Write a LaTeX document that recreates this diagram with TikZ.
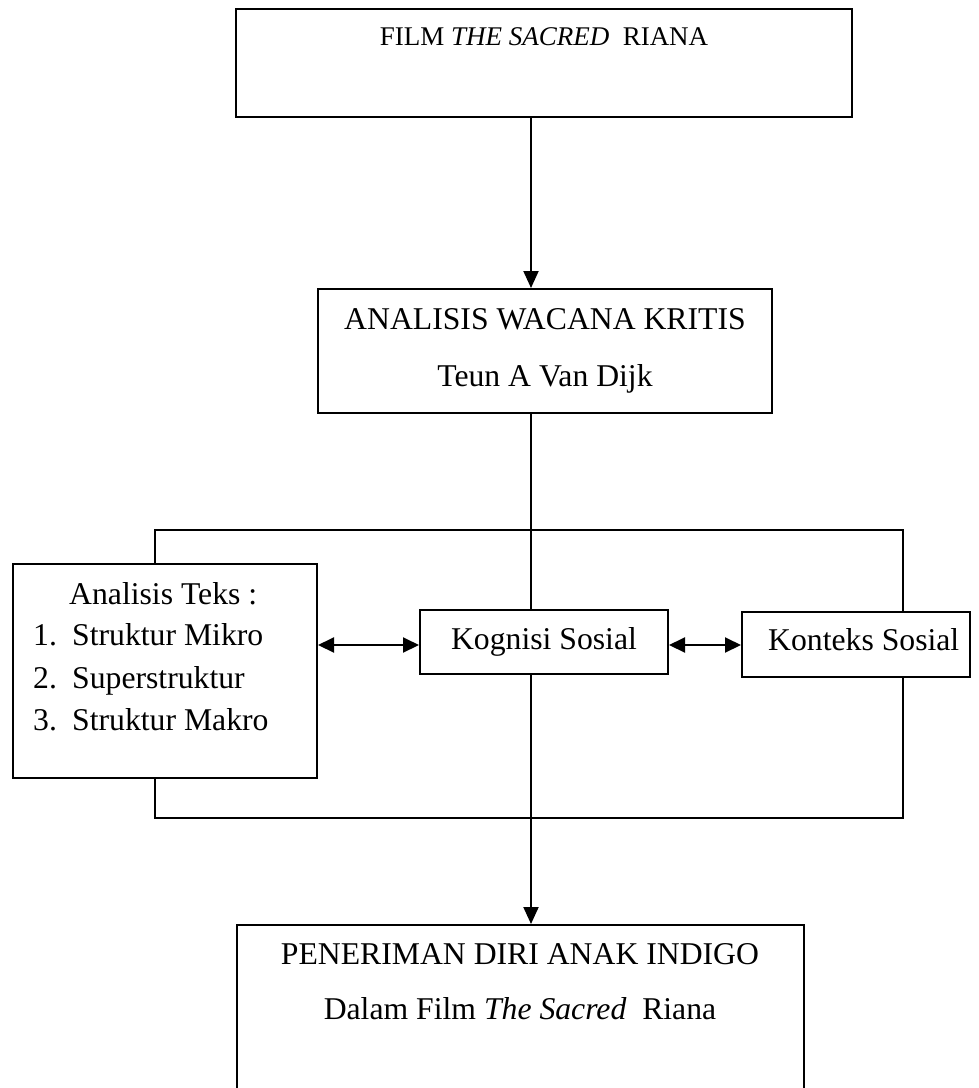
\documentclass[tikz,border=0pt]{standalone}
\usepackage{fontspec}
\setmainfont{Liberation Serif}
\usetikzlibrary{arrows.meta}
\begin{document}
\begin{tikzpicture}[x=1pt,y=-1pt,
  box/.style={draw,line width=2pt,rectangle,inner sep=0pt},
  big/.style={font=\fontsize{31.7}{38}\selectfont,inner sep=0pt,anchor=base},
  small/.style={font=\fontsize{27}{32}\selectfont,inner sep=0pt,anchor=base},
  conn/.style={line width=2pt},
  frameline/.style={line width=1.7pt},
  tip/.style={-{Triangle[length=17pt,width=15pt]}},
  dtip/.style={{Triangle[length=16pt,width=15pt]}-{Triangle[length=16pt,width=15pt]}}]
\useasboundingbox (0,0) rectangle (979,1088);
\clip (0,0) rectangle (979,1088);
\fill[white] (0,0) rectangle (979,1088);
% boxes
\node[box,minimum width=616pt,minimum height=108pt] (film) at (544,63) {};
\node[small] (filmt) at (544,45) {FILM \textit{THE SACRED}\ \ RIANA};
\node[box,minimum width=454pt,minimum height=124pt] (awk) at (545,351) {};
\node[big] (awk1) at (545,329) {ANALISIS WACANA KRITIS};
\node[big] (awk2) at (545,386) {Teun A Van Dijk};
\node[box,minimum width=304pt,minimum height=214pt] (teks) at (165,671) {};
\node[big,anchor=base west] (t0) at (69,604) {Analisis Teks :};
\node[big,anchor=base west] (n1) at (33,645) {1.};
\node[big,anchor=base west] (s1) at (72,645) {Struktur Mikro};
\node[big,anchor=base west] (n2) at (33,688) {2.};
\node[big,anchor=base west] (s2) at (72,688) {Superstruktur};
\node[big,anchor=base west] (n3) at (33,730) {3.};
\node[big,anchor=base west] (s3) at (72,730) {Struktur Makro};
\node[box,minimum width=248pt,minimum height=64pt] (kog) at (544,642) {};
\node[big] (kogt) at (544,649) {Kognisi Sosial};
\node[box,minimum width=228pt,minimum height=65pt] (kon) at (856,644.5) {};
\node[big,anchor=base west] (kont) at (768,650) {Konteks Sosial};
\node[box,minimum width=567pt,minimum height=200pt] (pen) at (520.5,1025) {};
\node[big] (pen1) at (520,964) {PENERIMAN DIRI ANAK INDIGO};
\node[big] (pen2) at (520,1019) {Dalam Film \textit{The Sacred}\ \ Riana};
% connectors
\coordinate (cx) at (531,0);
\coordinate (ay) at (0,645);
\coordinate (fl) at (155,530);
\coordinate (fr) at (903,530);
\coordinate (fb) at (0,818);
\draw[conn,tip] (cx |- film.south) -- (cx |- awk.north);
\draw[conn] (cx |- awk.south) -- (cx |- kog.north);
\draw[conn,tip] (cx |- kog.south) -- (cx |- pen.north);
\draw[conn,dtip] (teks.east |- ay) -- (kog.west |- ay);
\draw[conn,dtip] (kog.east |- ay) -- (kon.west |- ay);
\draw[frameline] (fl |- teks.north) -- (fl) -- (fr) -- (fr |- kon.north);
\draw[frameline] (fl |- teks.south) -- (fl |- fb) -- (fr |- fb) -- (fr |- kon.south);
\end{tikzpicture}
\end{document}
